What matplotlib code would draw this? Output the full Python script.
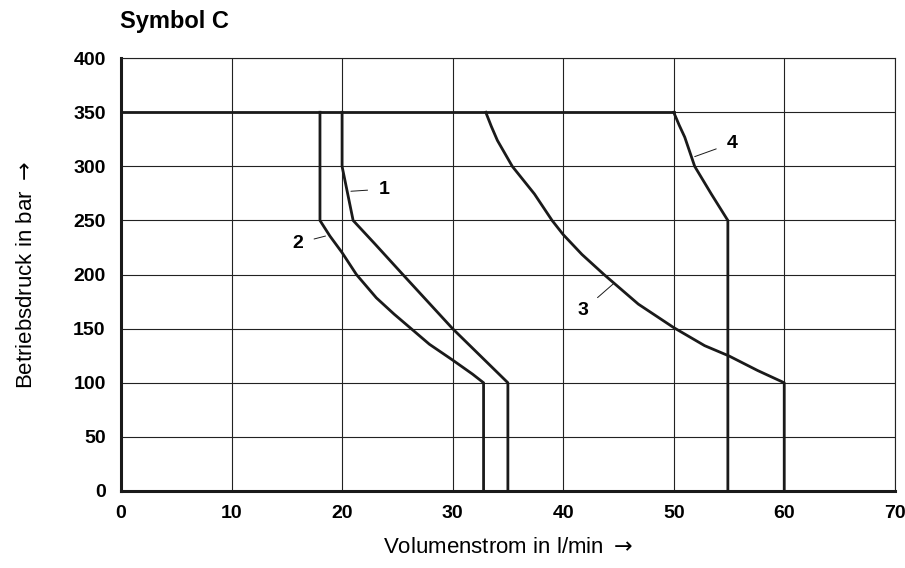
import matplotlib.pyplot as plt

plt.rcParams['font.family'] = ['Liberation Sans', 'DejaVu Sans']

# Kennlinien (Volumenstrom l/min, Druck bar)
q_limit = [0, 50]
p_limit = [350, 350]

q1 = [20.0, 20.0, 21.0, 23.0, 25.5, 30.0, 35.0, 35.0]
p1 = [350, 300, 250, 228, 200, 150, 100, 0]

q2 = [18.0, 18.0, 18.9, 20.0, 21.3, 23.1, 24.7, 26.25, 27.9, 30.0, 31.8, 32.8, 32.8]
p2 = [350, 250, 235.6, 220.3, 200, 178.5, 163.5, 150, 135.6, 121, 108, 100, 0]

q3 = [33.0, 33.5, 34.05, 35.4, 37.4, 39.0, 40.0, 41.7, 43.7, 46.8, 50.0, 52.8, 55.0, 57.6, 60.0, 60.0]
p3 = [350, 337, 324, 300, 274.5, 250, 237, 218.6, 200, 172.7, 151, 134.3, 124.8, 111.3, 100, 0]

q4 = [50.0, 50.5, 51.0, 51.9, 53.4, 54.9, 54.9]
p4 = [350, 338, 327, 300, 274.5, 250, 0]

fig = plt.figure(figsize=(9.05, 5.68), dpi=100)
ax = fig.add_axes([0.1337, 0.1356, 0.855, 0.762])

lw = 2.0
ax.plot(q_limit, p_limit, color='#1a1a1a', lw=lw, solid_joinstyle='miter')
for q, p in [(q1, p1), (q2, p2), (q3, p3), (q4, p4)]:
    ax.plot(q, p, color='#1a1a1a', lw=lw, solid_joinstyle='round')

# Kurvenbeschriftungen
lbl = dict(fontsize=14, fontweight='bold', ha='center', va='center',
           arrowprops=dict(arrowstyle='-', lw=0.7, color='#1a1a1a', shrinkA=6, shrinkB=0))
ax.annotate('1', xy=(20.8, 277), xytext=(23.8, 279), **lbl)
ax.annotate('2', xy=(18.5, 235.6), xytext=(16.0, 229), **lbl)
ax.annotate('3', xy=(44.6, 192), xytext=(41.8, 167), **lbl)
ax.annotate('4', xy=(51.9, 309), xytext=(55.3, 321.5), **lbl)

ax.set_xlim(0, 70)
ax.set_ylim(0, 400)
ax.set_xticks(range(0, 71, 10))
ax.set_yticks(range(0, 401, 50))
ax.grid(True, color='#222222', lw=0.8)
ax.set_axisbelow(True)
ax.tick_params(length=0, labelsize=14)
ax.tick_params(axis='x', pad=10)
ax.tick_params(axis='y', pad=11)
for t in ax.get_xticklabels() + ax.get_yticklabels():
    t.set_fontweight('bold')

for s in ['top', 'right']:
    ax.spines[s].set_linewidth(0.8)
    ax.spines[s].set_color('#222222')
for s in ['left', 'bottom']:
    ax.spines[s].set_linewidth(2.2)
    ax.spines[s].set_color('#1a1a1a')

ax.set_xlabel(r'Volumenstrom in l/min $\rightarrow$', fontsize=16, labelpad=11)
ax.set_ylabel(r'Betriebsdruck in bar $\rightarrow$', fontsize=16, labelpad=26)
fig.text(0.1326, 0.962, 'Symbol C', fontsize=17, fontweight='bold', ha='left', va='center')

fig.savefig('out.png', dpi=100)
